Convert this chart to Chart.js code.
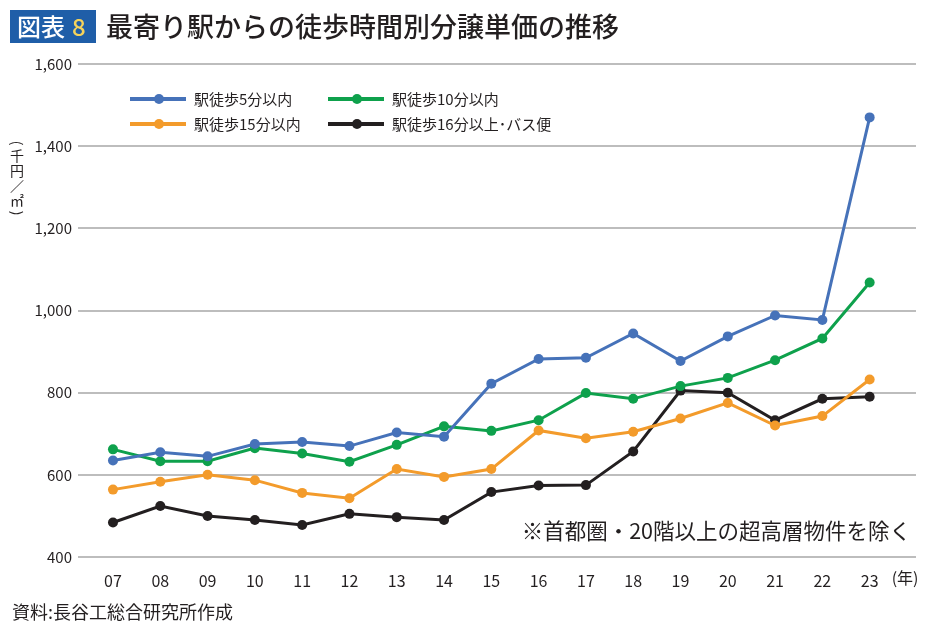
<!DOCTYPE html>
<html>
<head>
<meta charset="utf-8">
<script src="https://cdn.jsdelivr.net/npm/chart.js@4.4.1/dist/chart.umd.min.js"></script>
<style>
  html, body { margin: 0; padding: 0; background: #fff; }
  #wrap { position: relative; width: 928px; height: 630px; }
</style>
</head>
<body>
<div id="wrap"><canvas id="c" width="928" height="630"></canvas></div>
<script>
// data
const years = ['07','08','09','10','11','12','13','14','15','16','17','18','19','20','21','22','23'];
const walk5  = [635, 655, 645, 675, 680, 670, 703, 693, 822, 882, 885, 944, 877, 937, 988, 977, 1470];
const walk10 = [662, 633, 633, 665, 652, 632, 673, 718, 707, 733, 799, 785, 816, 836, 879, 932, 1068];
const walk15 = [564, 583, 600, 587, 556, 543, 614, 595, 614, 708, 689, 705, 737, 775, 720, 743, 832];
const walk16 = [484, 524, 500, 490, 478, 505, 497, 490, 558, 574, 575, 657, 805, 800, 733, 785, 790];
const seriesNames = ['駅徒歩5分以内', '駅徒歩10分以内', '駅徒歩15分以内', '駅徒歩16分以上･バス便'];
const yTicks = [400, 600, 800, 1000, 1200, 1400, 1600];

const colors = ['#4672b9', '#0ea14c', '#f39b2b', '#231f20'];
const JP = '"Noto Sans CJK JP", "Noto Sans", sans-serif';

function pts(arr) { return arr.map((v, i) => ({ x: i, y: v })); }

const datasets = [walk5, walk10, walk15, walk16].map((arr, k) => ({
  label: seriesNames[k],
  data: pts(arr),
  borderColor: colors[k],
  backgroundColor: colors[k],
  borderWidth: 3,
  pointRadius: 5,
  pointBorderWidth: 0,
  tension: 0
}));

// title, legend, vertical unit label, notes
const extras = {
  id: 'extras',
  afterDraw(chart) {
    const ctx = chart.ctx;
    ctx.save();
    // title badge
    ctx.fillStyle = '#1f5ea8';
    ctx.fillRect(10, 10, 86, 33);
    ctx.fillStyle = '#fff';
    ctx.font = '500 24px ' + JP;
    ctx.textBaseline = 'middle';
    ctx.textAlign = 'left';
    ctx.fillText('図表', 17, 27);
    ctx.fillStyle = '#f6d35b';
    ctx.fillText('8', 72, 27);
    ctx.fillStyle = '#231f20';
    ctx.font = '500 27px ' + JP;
    ctx.fillText('最寄り駅からの徒歩時間別分譲単価の推移', 106, 27);

    // legend
    const pos = [[130, 99], [328, 99], [130, 124], [328, 124]];
    ctx.font = '15px ' + JP;
    chart.data.datasets.forEach((ds, k) => {
      const [x, y] = pos[k];
      ctx.strokeStyle = ds.borderColor;
      ctx.lineWidth = 4;
      ctx.beginPath(); ctx.moveTo(x, y); ctx.lineTo(x + 56, y); ctx.stroke();
      ctx.fillStyle = ds.borderColor;
      ctx.beginPath(); ctx.arc(x + 29, y, 5, 0, Math.PI * 2); ctx.fill();
      ctx.fillStyle = '#231f20';
      ctx.fillText(ds.label, x + 64, y);
    });

    // vertical unit label
    const chars = ['(', '千', '円', '／', '㎡', ')'];
    ctx.font = '14px ' + JP;
    ctx.textAlign = 'center';
    let yy = 143;
    chars.forEach(ch => {
      if (ch === '(' || ch === ')') {
        ctx.save();
        ctx.translate(17, yy);
        ctx.rotate(Math.PI / 2);
        ctx.fillText(ch, 0, 0);
        ctx.restore();
        yy += 10;
      } else {
        ctx.fillText(ch, 17, yy + 3);
        yy += 15;
      }
    });

    // year unit after last tick
    const xs = chart.scales.x;
    ctx.textAlign = 'left';
    ctx.font = '16px ' + JP;
    ctx.fillText('(年)', xs.getPixelForValue(years.length - 1) + 22, 578);

    // note inside the plot
    ctx.textAlign = 'right';
    ctx.font = '21.5px ' + JP;
    ctx.fillText('※首都圏・20階以上の超高層物件を除く', 911, 531);

    // source
    ctx.textAlign = 'left';
    ctx.font = '18px ' + JP;
    ctx.fillText('資料:長谷工総合研究所作成', 12, 612);
    ctx.restore();
  }
};

new Chart(document.getElementById('c'), {
  type: 'line',
  data: { datasets },
  options: {
    responsive: false,
    animation: false,
    layout: { padding: { top: 64, right: 12, left: 0, bottom: 0 } },
    plugins: { legend: { display: false }, tooltip: { enabled: false } },
    scales: {
      x: {
        type: 'linear',
        min: -0.74,
        max: 16.98,
        grid: { display: false },
        border: { display: false },
        afterBuildTicks(scale) {
          scale.ticks = years.map((_, i) => ({ value: i }));
        },
        afterFit(scale) { scale.height = 73; },
        ticks: {
          padding: 6,
          color: '#231f20',
          font: { family: JP, size: 16 },
          callback: v => years[v]
        }
      },
      y: {
        min: 400,
        max: 1600,
        afterBuildTicks(scale) {
          scale.ticks = yTicks.map(v => ({ value: v }));
        },
        afterFit(scale) { scale.width = 78; },
        grid: { color: '#bdbdbd', lineWidth: 2, drawTicks: false },
        border: { display: false },
        ticks: {
          padding: 6,
          color: '#231f20',
          font: { family: JP, size: 15 },
          callback: v => v.toLocaleString('en-US')
        }
      }
    }
  },
  plugins: [extras]
});
</script>
</body>
</html>
